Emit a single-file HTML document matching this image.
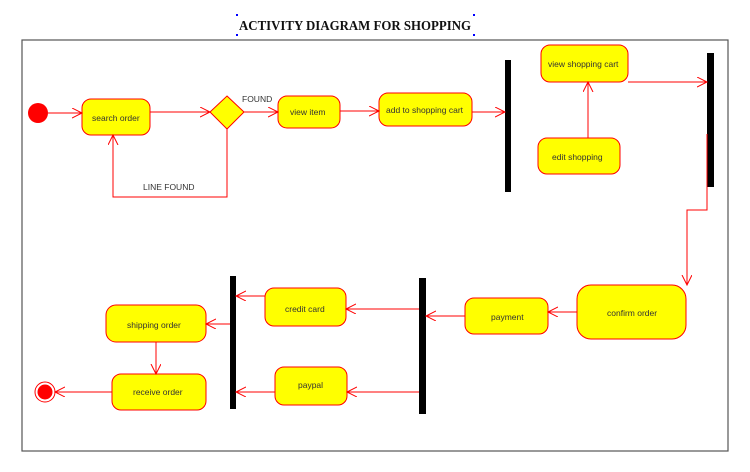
<!DOCTYPE html>
<html><head><style>
body{margin:0;background:#fff;width:750px;height:467px;overflow:hidden}
svg text{font-family:"Liberation Sans",sans-serif;font-size:8.5px;fill:#333}
</style></head><body>
<svg width="750" height="467" xmlns="http://www.w3.org/2000/svg">
<defs><marker id="a" markerWidth="12" markerHeight="12" refX="10" refY="5" orient="auto" markerUnits="userSpaceOnUse"><path d="M0,0 L10,5 L0,10" fill="none" stroke="#f00" stroke-width="1"/></marker></defs>
<text x="239" y="30" textLength="232" lengthAdjust="spacingAndGlyphs" style="font-family:'Liberation Serif',serif;font-weight:bold;font-size:14px;fill:#111">ACTIVITY DIAGRAM FOR SHOPPING</text>
<g fill="#00f"><rect x="236" y="14" width="2" height="2"/><rect x="473" y="14" width="2" height="2"/><rect x="236" y="34" width="2" height="2"/><rect x="473" y="34" width="2" height="2"/></g>
<rect x="22" y="40" width="706" height="411" fill="none" stroke="#555" stroke-width="1.2"/>
<g fill="#ff0" stroke="#f00" stroke-width="1">
<rect x="82" y="99" width="68" height="36" rx="9"/>
<polygon points="227,96 244,112 227,129 210,112"/>
<rect x="278" y="96" width="62" height="32" rx="9"/>
<rect x="379" y="93" width="93" height="33" rx="9"/>
<rect x="541" y="45" width="87" height="37" rx="9"/>
<rect x="538" y="138" width="82" height="36" rx="9"/>
<rect x="577" y="285" width="109" height="54" rx="14"/>
<rect x="465" y="298" width="83" height="36" rx="9"/>
<rect x="265" y="288" width="81" height="38" rx="9"/>
<rect x="275" y="367" width="72" height="38" rx="9"/>
<rect x="106" y="305" width="100" height="37" rx="10"/>
<rect x="112" y="374" width="94" height="36" rx="9"/>
</g>
<circle cx="38" cy="113" r="10" fill="#f00"/>
<circle cx="45" cy="392" r="10" fill="none" stroke="#f00"/>
<circle cx="45" cy="392" r="7.5" fill="#f00"/>
<g fill="#000"><rect x="505" y="60" width="6" height="132"/><rect x="707" y="53" width="7" height="134"/><rect x="419" y="278" width="7" height="136"/><rect x="230" y="276" width="6" height="133"/></g>
<g stroke="#f00" stroke-width="1" fill="none" marker-end="url(#a)">
<line x1="48" y1="113" x2="82" y2="113"/>
<line x1="150" y1="112" x2="210" y2="112"/>
<path d="M227,129 V197 H113 V135"/>
<line x1="244" y1="112" x2="278" y2="112"/>
<line x1="340" y1="111" x2="379" y2="111"/>
<line x1="472" y1="112" x2="505" y2="112"/>
<line x1="588" y1="138" x2="588" y2="82"/>
<line x1="628" y1="82" x2="707" y2="82"/>
<path d="M707,134 V210 H687 V285"/>
<line x1="577" y1="312" x2="548" y2="312"/>
<line x1="465" y1="316" x2="426" y2="316"/>
<line x1="419" y1="309" x2="346" y2="309"/>
<line x1="419" y1="392" x2="347" y2="392"/>
<line x1="265" y1="296" x2="236" y2="296"/>
<line x1="275" y1="392" x2="236" y2="392"/>
<line x1="230" y1="324" x2="206" y2="324"/>
<line x1="156" y1="342" x2="156" y2="374"/>
<line x1="112" y1="392" x2="55" y2="392"/>
</g>
<text x="92" y="121">search order</text>
<text x="242" y="102">FOUND</text>
<text x="143" y="190">LINE FOUND</text>
<text x="290" y="115">view item</text>
<text x="386" y="113">add to shopping cart</text>
<text x="548" y="67">view shopping cart</text>
<text x="552" y="160">edit shopping</text>
<text x="607" y="316">confirm order</text>
<text x="491" y="320">payment</text>
<text x="285" y="312">credit card</text>
<text x="298" y="388">paypal</text>
<text x="127" y="328">shipping order</text>
<text x="133" y="395">receive order</text>
</svg>
</body></html>
